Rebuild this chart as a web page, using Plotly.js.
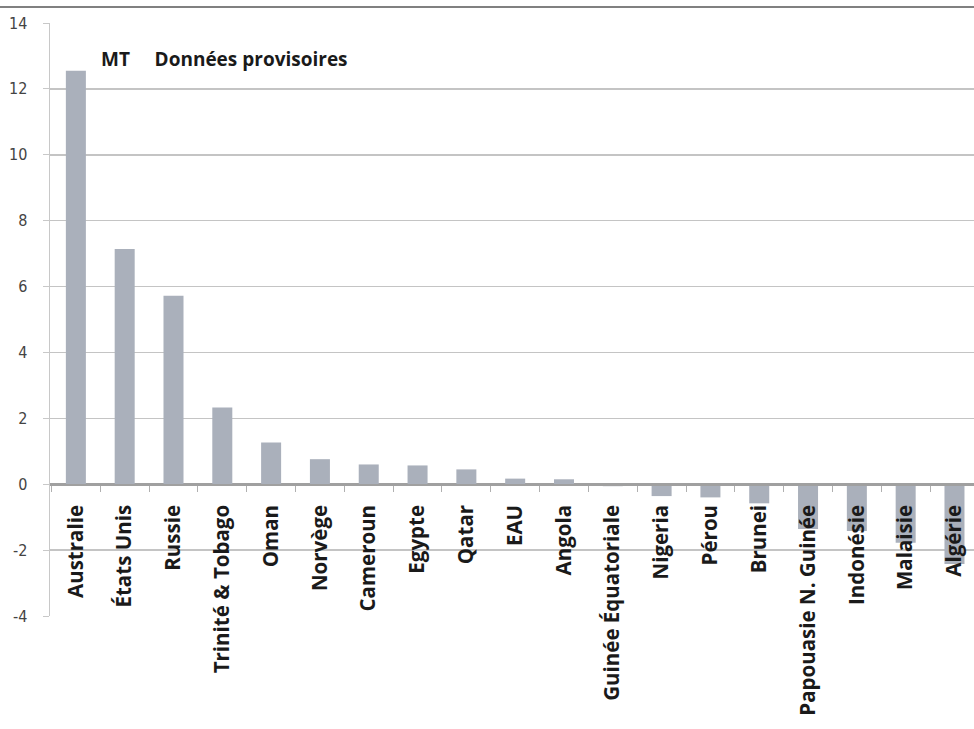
<!DOCTYPE html>
<html>
<head>
<meta charset="utf-8">
<script src="https://cdn.plot.ly/plotly-3.0.1.min.js"></script>
<style>html,body{margin:0;padding:0;background:#fff;}#chart{width:974px;height:729px;}</style>
</head>
<body>
<div id="chart"></div>
<script>
const countries = ["Australie","États Unis","Russie","Trinité & Tobago","Oman","Norvège","Cameroun","Egypte","Qatar","EAU","Angola","Guinée Équatoriale","Nigeria","Pérou","Brunei","Papouasie N. Guinée","Indonésie","Malaisie","Algérie"];
const values = [12.55, 7.14, 5.72, 2.33, 1.27, 0.76, 0.6, 0.57, 0.45, 0.17, 0.15, -0.06, -0.36, -0.4, -0.58, -1.36, -1.42, -1.78, -2.42];
const yTicks = [-4, -2, 0, 2, 4, 6, 8, 10, 12, 14];
const titleText = "MT\u00a0\u00a0\u00a0\u00a0\u00a0Données provisoires";

const yMin = -4, yMax = 14;
const trace = {
  type: "bar",
  x: countries,
  y: values,
  marker: {color: "#aab0bb", line: {width: 0}},
  hoverinfo: "x+y"
};
const layout = {
  width: 974, height: 729,
  margin: {l: 50, r: 0, t: 23, b: 113},
  paper_bgcolor: "#fff", plot_bgcolor: "#fff",
  showlegend: false,
  bargap: 0.59,
  xaxis: {
    type: "category",
    range: [-0.53, 18.4],
    anchor: "free",
    position: (0 - yMin) / (yMax - yMin),
    showgrid: false,
    showline: true, linecolor: "#a0a0a0", linewidth: 1.5,
    ticks: "outside", tickson: "boundaries", ticklen: 6, tickcolor: "#b0b0b0", tickwidth: 1,
    tickangle: -90,
    ticklabelstandoff: 11,
    tickfont: {family: "Open Sans, Noto Sans, sans-serif", size: 20.5, color: "#1a1a1a", weight: "bold"},
    zeroline: false,
    fixedrange: true
  },
  yaxis: {
    range: [yMin, yMax],
    tickvals: yTicks,
    ticktext: yTicks.map(String),
    showgrid: true, gridcolor: "#c4c4c4", gridwidth: 1.5,
    zeroline: true, zerolinecolor: "#a0a0a0", zerolinewidth: 1.5,
    showline: true, linecolor: "#c8c8c8", linewidth: 1.5,
    ticks: "outside", ticklen: 6, tickcolor: "#c8c8c8",
    ticklabelstandoff: 12,
    tickfont: {family: "Liberation Sans Narrow, DejaVu Sans Condensed, sans-serif", size: 16, color: "#444"},
    fixedrange: true
  },
  shapes: [{
    type: "line", xref: "paper", yref: "paper",
    x0: -0.06, x1: 1, y0: 1.027, y1: 1.027,
    line: {color: "#808080", width: 2}
  }],
  annotations: [{
    xref: "paper", yref: "paper", x: 0.053, y: 0.94,
    xanchor: "left", yanchor: "middle", showarrow: false,
    text: titleText,
    font: {family: "Open Sans, Noto Sans, sans-serif", size: 19, color: "#1a1a1a", weight: "bold"}
  }]
};
Plotly.newPlot("chart", [trace], layout, {displayModeBar: false, staticPlot: true});
</script>
</body>
</html>
